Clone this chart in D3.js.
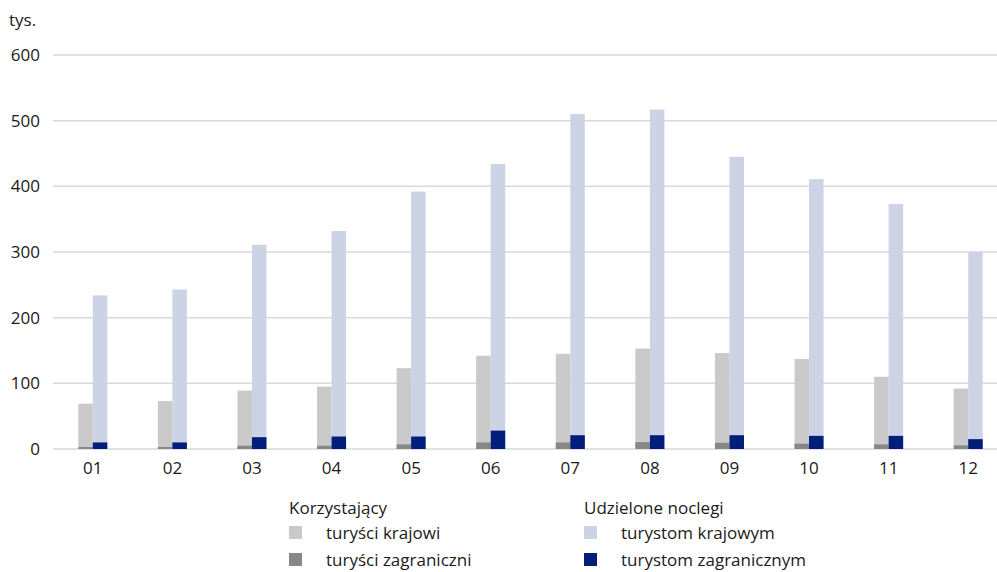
<!DOCTYPE html>
<html>
<head>
<meta charset="utf-8">
<script src="https://cdn.jsdelivr.net/npm/d3@7"></script>
<style>
    body { margin: 0; background: #fff; }
    text { font-family: "Open Sans", sans-serif; fill: #1a1a1a; }
</style>
</head>
<body>
<svg id="chart" width="997" height="572"></svg>
<script>
    'use strict';

    var months = ["01", "02", "03", "04", "05", "06", "07", "08", "09", "10", "11", "12"];
    // Korzystający (tys.)
    var turysciKrajowi = [69, 73, 89, 95, 123, 142, 145, 153, 146, 137, 110, 92];
    var turysciZagraniczni = [3, 3, 5, 5, 7, 10, 10, 10.5, 9.5, 8, 7, 5.5];
    // Udzielone noclegi (tys.)
    var noclegiKrajowym = [234, 243, 311, 332, 392, 434, 510, 517, 445, 411, 373, 300];
    var noclegiZagranicznym = [10, 10, 18, 19, 19, 28, 21, 21, 21, 20, 20, 15];
    var yTicks = [0, 100, 200, 300, 400, 500, 600];

    var colors = {
        krajowi: "#c9c9c9",
        zagraniczni: "#878787",
        krajowym: "#ccd3e5",
        zagranicznym: "#001e7a"
    };

    var svg = d3.select("#chart");
    var plotLeft = 53, plotRight = 1008, plotTop = 55, plotBottom = 449;
    var fontSize = "17px";

    var x = d3.scaleBand().domain(months).range([plotLeft, plotRight]).paddingInner(0.635).paddingOuter(0.3175);
    var y = d3.scaleLinear().domain([0, 600]).range([plotBottom, plotTop]);
    var bw = x.bandwidth() / 2;

    // gridlines
    svg.append("g").selectAll("line").data(yTicks).enter().append("line")
        .attr("x1", plotLeft).attr("x2", 997)
        .attr("y1", function (d) { return y(d); }).attr("y2", function (d) { return y(d); })
        .attr("stroke", "#d9d9d9").attr("stroke-width", 1.5);

    // y axis labels
    var yAxis = d3.axisLeft(y).tickValues(yTicks).tickSize(0).tickPadding(0);
    var gy = svg.append("g").attr("transform", "translate(40,0)").call(yAxis);
    gy.select(".domain").remove();
    gy.selectAll("text").style("font-size", fontSize).attr("font-family", null);

    svg.append("text").attr("x", 9).attr("y", 26).style("font-size", fontSize).text("tys.");

    function drawBars(data, offset, color) {
        svg.append("g").selectAll("rect").data(data).enter().append("rect")
            .attr("x", function (d, i) { return x(months[i]) + offset; })
            .attr("width", bw)
            .attr("y", function (d) { return y(d); })
            .attr("height", function (d) { return y(0) - y(d); })
            .attr("fill", color);
    }

    drawBars(turysciKrajowi, 0, colors.krajowi);
    drawBars(noclegiKrajowym, bw, colors.krajowym);
    drawBars(turysciZagraniczni, 0, colors.zagraniczni);
    drawBars(noclegiZagranicznym, bw, colors.zagranicznym);

    // x axis labels
    var xAxis = d3.axisBottom(x).tickSize(0).tickPadding(13);
    var gx = svg.append("g").attr("transform", "translate(0," + plotBottom + ")").call(xAxis);
    gx.select(".domain").remove();
    gx.selectAll("text").style("font-size", fontSize).attr("font-family", null);

    // legend
    var legendCols = [
        {title: "Korzystający", x: 289, items: [
            {label: "turyści krajowi", color: colors.krajowi},
            {label: "turyści zagraniczni", color: colors.zagraniczni}]},
        {title: "Udzielone noclegi", x: 584, items: [
            {label: "turystom krajowym", color: colors.krajowym},
            {label: "turystom zagranicznym", color: colors.zagranicznym}]}
    ];

    legendCols.forEach(function (col) {
        var g = svg.append("g").attr("transform", "translate(" + col.x + ",0)");
        g.append("text").attr("x", 0).attr("y", 514).style("font-size", fontSize).text(col.title);
        col.items.forEach(function (item, i) {
            g.append("rect").attr("x", 0).attr("y", 526 + i * 27).attr("width", 13).attr("height", 13).attr("fill", item.color);
            g.append("text").attr("x", 37).attr("y", 539 + i * 27).style("font-size", fontSize).text(item.label);
        });
    });
</script>
</body>
</html>
